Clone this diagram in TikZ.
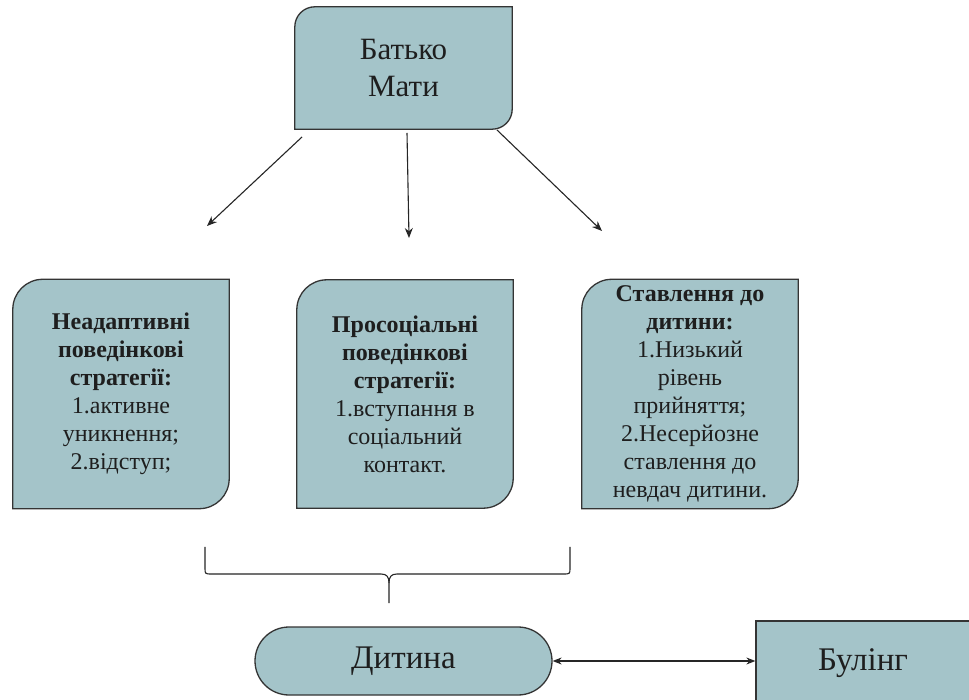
\documentclass[tikz,border=0pt]{standalone}
\usepackage{fontspec}
\setmainfont{Liberation Serif}
\usetikzlibrary{arrows.meta,backgrounds,shapes.misc}

\definecolor{boxfill}{RGB}{164,196,201}
\definecolor{boxedge}{RGB}{52,52,52}
\definecolor{inktext}{RGB}{30,30,30}

% outline with rounded top-left and bottom-right corners around a node
\newcommand\diagoutline[2]{%
  \draw[boxline] (#1.south west) -- ([yshift=-#2]#1.north west)
    arc[start angle=180,end angle=90,radius=#2] -- (#1.north east)
    -- ([yshift=#2]#1.south east)
    arc[start angle=0,end angle=-90,radius=#2] -- cycle;}

\tikzset{
  boxline/.style={draw=boxedge,fill=boxfill,line width=1.3pt},
  stratbox/.style={minimum width=216pt,minimum height=229pt,inner sep=0pt,
    align=center,text=inktext,font=\fontsize{24}{28}\selectfont},
  parentbox/.style={minimum width=217pt,minimum height=122pt,inner sep=0pt,
    align=center,text=inktext,font=\fontsize{31}{37}\selectfont},
  childbox/.style={rounded rectangle,draw=boxedge,fill=boxfill,line width=1.3pt,
    minimum width=297pt,minimum height=68pt,inner sep=0pt,text=inktext,
    font=\fontsize{33}{37}\selectfont},
  bullybox/.style={rectangle,draw=boxedge,fill=boxfill,line width=1.3pt,
    minimum width=214pt,minimum height=84pt,inner sep=0pt,text=inktext,
    font=\fontsize{33}{37}\selectfont},
  link/.style={draw=black!85,line width=1.1pt,-{Stealth[length=10pt,width=8pt]}},
  twoway/.style={draw=black!85,line width=1.1pt,
    {Stealth[length=9pt,width=7pt]}-{Stealth[length=9pt,width=7pt]}},
  bracket/.style={draw=black!85,line width=1.1pt}
}

\begin{document}
\begin{tikzpicture}[x=1pt,y=1pt]
\useasboundingbox (0,0) rectangle (969,699);
\clip (0,0) rectangle (969,699);

% parents
\node[parentbox] (parents) at (403.5,631) {\raisebox{-3pt}{\parbox{200pt}{\centering Батько\\Мати}}};

% behaviour strategies and attitude
\node[stratbox] (maladaptive) at (121,305)
  {\raisebox{-3pt}{\parbox{210pt}{\centering\textbf{Неадаптивні}\\\textbf{поведінкові}\\\textbf{стратегії:}\\1.активне\\уникнення;\\2.відступ;}}};
\node[stratbox,minimum height=228pt] (prosocial) at (405,305)
  {\raisebox{-3pt}{\parbox{210pt}{\centering\textbf{Просоціальні}\\\textbf{поведінкові}\\\textbf{стратегії:}\\1.вступання в\\соціальний\\контакт.}}};
\node[stratbox] (attitude) at (690,305)
  {\textbf{Ставлення до}\\\textbf{дитини:}\\1.Низький\\рівень\\прийняття;\\2.Несерйозне\\ставлення до\\невдач дитини.};

\begin{scope}[on background layer]
  \fill[white] (0,0) rectangle (969,699);
  \diagoutline{parents}{20pt}
  \diagoutline{maladaptive}{30pt}
  \diagoutline{prosocial}{30pt}
  \diagoutline{attitude}{30pt}
\end{scope}

% child and bullying
\node[childbox] (child) at (403.5,38) {Дитина};
\node[bullybox] (bullying) at (863,36) {Булінг};

% arrows from the parents
\coordinate (fromL) at (302,562);
\coordinate (toL) at (207,473);
\coordinate (fromM) at (407,566);
\coordinate (toM) at (409,461);
\coordinate (fromR) at (497,569);
\coordinate (toR) at (602,468);
\draw[link] (fromL) -- (toL);
\draw[link] (fromM) -- (toM);
\draw[link] (fromR) -- (toR);

% brace gathering the three boxes
\draw[bracket] (205,152) -- (205,131) .. controls (205,125) .. (212,125)
  -- (381,125) .. controls (387,125) and (389,122) .. (389,116) -- (389,96);
\draw[bracket] (570,152) -- (570,131) .. controls (570,125) .. (563,125)
  -- (397,125) .. controls (391,125) and (389,122) .. (389,116);

% child <-> bullying
\draw[twoway] (child.east) -- (child.east -| bullying.west);
\end{tikzpicture}
\end{document}
